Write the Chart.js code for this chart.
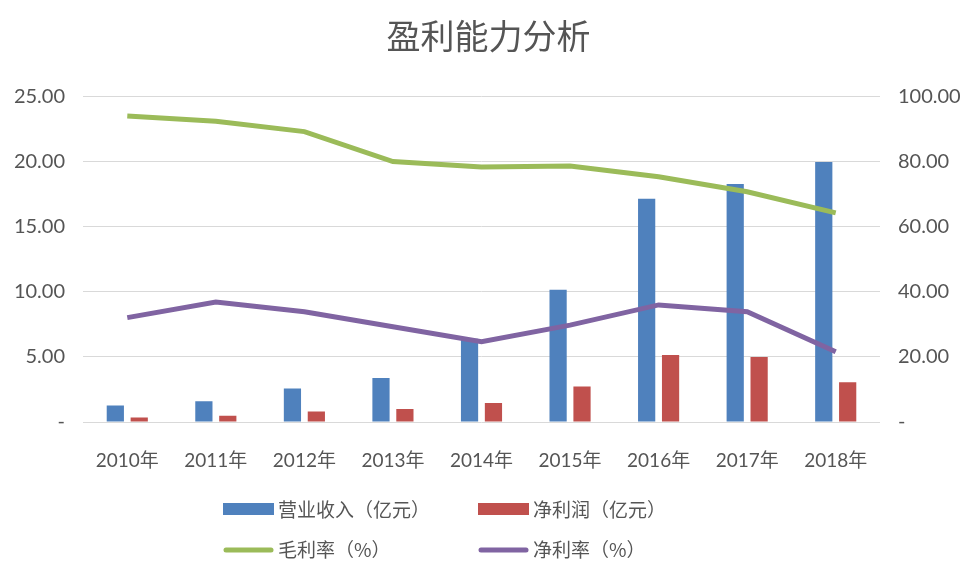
<!DOCTYPE html>
<html>
<head>
<meta charset="utf-8">
<script src="https://cdn.jsdelivr.net/npm/chart.js@4.4.1/dist/chart.umd.min.js"></script>
<style>
  html, body { margin: 0; padding: 0; background: #fff; }
</style>
</head>
<body>
<canvas id="profitChart" width="977" height="579"></canvas>
<script>
var years = ["2010年", "2011年", "2012年", "2013年", "2014年", "2015年", "2016年", "2017年", "2018年"];
var revenue = [1.27, 1.59, 2.58, 3.38, 6.40, 10.16, 17.16, 18.30, 19.98];
var netProfit = [0.34, 0.49, 0.80, 0.99, 1.46, 2.73, 5.16, 5.00, 3.05];
var grossMargin = [94.1, 92.5, 89.3, 80.1, 78.4, 78.7, 75.4, 70.8, 64.3];
var netMargin = [32.1, 36.9, 33.9, 29.3, 24.7, 29.8, 36.0, 33.9, 21.6];
var leftTickLabels = ["-", "5.00", "10.00", "15.00", "20.00", "25.00"];
var rightTickLabels = ["-", "20.00", "40.00", "60.00", "80.00", "100.00"];

var textGray = "#555555";
var cjk = '"Noto Sans CJK SC", sans-serif';
var num = 'Lato, "Noto Sans CJK SC", sans-serif';
var narrow = '"Liberation Sans Narrow", Lato, "Noto Sans CJK SC", sans-serif';

// two-column legend like the Excel one
var gridLegend = {
    id: "gridLegend",
    afterDraw: function (chart) {
        var ctx = chart.ctx;
        var cols = [223, 478];
        var rows = [509, 549];
        chart.data.datasets.forEach(function (ds, i) {
            var x = cols[i % 2];
            var y = rows[Math.floor(i / 2)];
            ctx.save();
            if (ds.type === "line") {
                ctx.strokeStyle = ds.borderColor;
                ctx.lineWidth = 5;
                ctx.lineCap = "round";
                ctx.beginPath();
                ctx.moveTo(x + 3, y + 1);
                ctx.lineTo(x + 48, y + 1);
                ctx.stroke();
            } else {
                ctx.fillStyle = ds.backgroundColor;
                ctx.fillRect(x, y - 6, 51, 12);
            }
            ctx.fillStyle = textGray;
            ctx.font = "19px " + cjk;
            ctx.textBaseline = "middle";
            ctx.fillText(ds.label, x + 55, y + 1);
            ctx.restore();
        });
    }
};

new Chart("profitChart", {
    type: "bar",
    data: {
        labels: years,
        datasets: [{
            label: "营业收入（亿元）",
            data: revenue,
            backgroundColor: "#4F81BD",
            yAxisID: "y",
            order: 2,
            categoryPercentage: 0.54,
            barPercentage: 0.72
        }, {
            label: "净利润（亿元）",
            data: netProfit,
            backgroundColor: "#C0504D",
            yAxisID: "y",
            order: 2,
            categoryPercentage: 0.54,
            barPercentage: 0.72
        }, {
            type: "line",
            label: "毛利率（%）",
            data: grossMargin,
            borderColor: "#9BBB59",
            backgroundColor: "#9BBB59",
            borderWidth: 5,
            pointRadius: 0,
            tension: 0,
            fill: false,
            yAxisID: "y1",
            order: 1
        }, {
            type: "line",
            label: "净利率（%）",
            data: netMargin,
            borderColor: "#8064A2",
            backgroundColor: "#8064A2",
            borderWidth: 5,
            pointRadius: 0,
            tension: 0,
            fill: false,
            yAxisID: "y1",
            order: 1
        }]
    },
    options: {
        responsive: false,
        animation: false,
        layout: {
            padding: { left: 0, right: 0, top: 0, bottom: 107 }
        },
        plugins: {
            legend: { display: false },
            tooltip: { enabled: false },
            title: {
                display: true,
                text: "盈利能力分析",
                color: textGray,
                font: { family: cjk, size: 34, weight: "normal" },
                padding: { top: 16, bottom: 40 }
            }
        },
        scales: {
            x: {
                grid: { display: false },
                border: { display: false },
                ticks: {
                    color: textGray,
                    font: { family: narrow, size: 19 },
                    padding: 19,
                    maxRotation: 0
                },
                afterFit: function (scale) { scale.height = 50; }
            },
            y: {
                position: "left",
                min: 0,
                max: 25,
                grid: { color: "#D9D9D9", lineWidth: 1, drawTicks: false },
                border: { display: false },
                ticks: {
                    stepSize: 5,
                    padding: 18,
                    color: textGray,
                    font: { family: num, size: 20 },
                    callback: function (v, i) { return leftTickLabels[i]; }
                },
                afterFit: function (scale) { scale.width = 83; }
            },
            y1: {
                position: "right",
                min: 0,
                max: 100,
                grid: { drawOnChartArea: false, drawTicks: false },
                border: { display: false },
                ticks: {
                    stepSize: 20,
                    padding: 18,
                    color: textGray,
                    font: { family: num, size: 20 },
                    callback: function (v, i) { return rightTickLabels[i]; }
                },
                afterFit: function (scale) { scale.width = 97; }
            }
        }
    },
    plugins: [gridLegend]
});
</script>
</body>
</html>
